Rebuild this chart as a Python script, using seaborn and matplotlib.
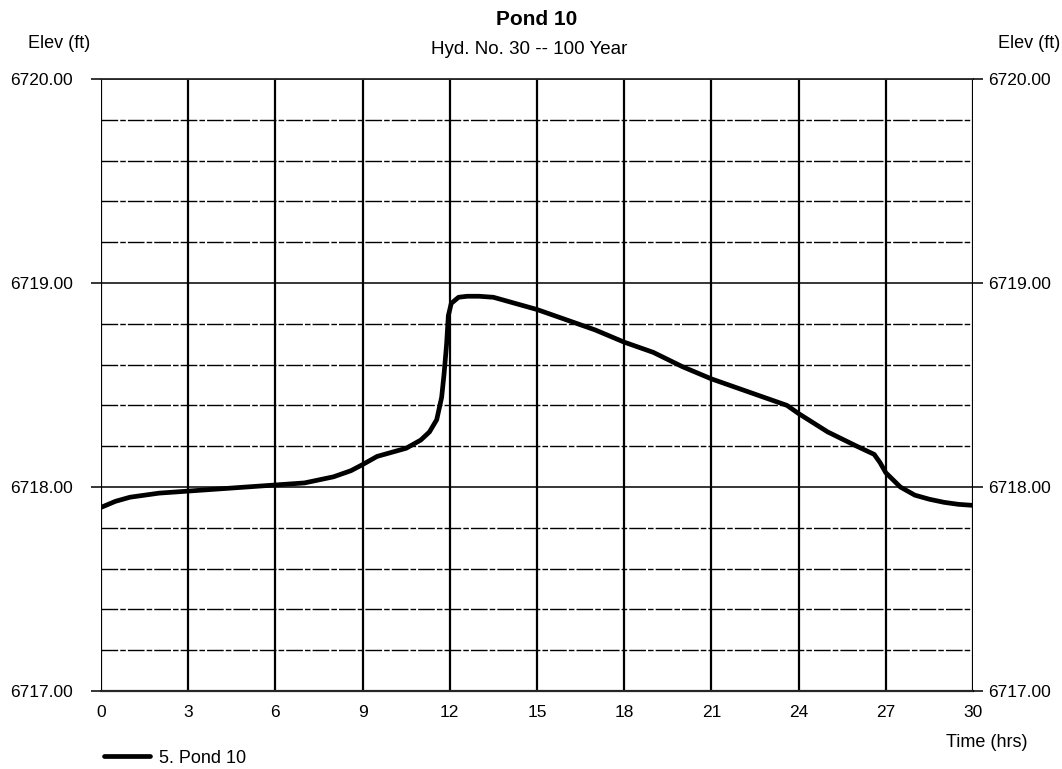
import numpy as np
import pandas as pd
import matplotlib
matplotlib.use("Agg")
import matplotlib.pyplot as plt
import seaborn as sns

# Data
time_hrs = [0, 0.5, 1, 2, 3, 4, 5, 6, 7, 8, 8.6, 9, 9.5, 10, 10.5, 11, 11.3, 11.55,
            11.72, 11.8, 11.89, 11.95, 12.05, 12.3, 12.6, 13, 13.5, 14, 15, 16, 17,
            18, 19, 20, 21, 22, 23, 23.6, 24, 25, 26, 26.6, 26.8, 27, 27.5, 28,
            28.5, 29, 29.5, 30]
elev_ft = [6717.90, 6717.93, 6717.95, 6717.97, 6717.98, 6717.99, 6718.00, 6718.01,
           6718.02, 6718.05, 6718.08, 6718.11, 6718.15, 6718.17, 6718.19, 6718.23,
           6718.27, 6718.33, 6718.44, 6718.55, 6718.70, 6718.84, 6718.90, 6718.93,
           6718.935, 6718.935, 6718.93, 6718.91, 6718.87, 6718.82, 6718.77,
           6718.71, 6718.66, 6718.59, 6718.53, 6718.48, 6718.43, 6718.40, 6718.36,
           6718.27, 6718.20, 6718.16, 6718.12, 6718.07, 6718.00, 6717.96,
           6717.94, 6717.925, 6717.915, 6717.91]
x_ticks = [0, 3, 6, 9, 12, 15, 18, 21, 24, 27, 30]
y_major = [6717, 6718, 6719, 6720]
y_minor = [6717.2, 6717.4, 6717.6, 6717.8, 6718.2, 6718.4, 6718.6, 6718.8,
           6719.2, 6719.4, 6719.6, 6719.8]
series_name = "5. Pond 10"

sns.set_style("white")
plt.rcParams['font.family'] = ['Liberation Sans', 'DejaVu Sans']
plt.rcParams['text.color'] = 'black'
plt.rcParams['xtick.color'] = 'black'
plt.rcParams['ytick.color'] = 'black'
plt.rcParams['axes.labelcolor'] = 'black'

df = pd.DataFrame({"Time": time_hrs, "Elev": elev_ft})

fig = plt.figure(figsize=(10.62, 7.69), dpi=100)
ax = fig.add_axes([0.0951, 0.1014, 0.8211, 0.7959])

ax.set_xlim(0, 30)
ax.set_ylim(6717, 6720)

# grid
for v in x_ticks:
    ax.axvline(v, color="black", lw=1.6, zorder=1)
for h in y_major:
    ax.axhline(h, color="black", lw=1.1, zorder=1)
for h in y_minor:
    ax.axhline(h, color="black", lw=1.0, ls=(0, (12, 1.5, 4, 1.5)), zorder=1)

sns.lineplot(data=df, x="Time", y="Elev", ax=ax, color="black", lw=3.4,
             label=series_name, zorder=3, legend=False)

for s in ax.spines.values():
    s.set_visible(False)
ax.spines['top'].set_visible(True)
ax.spines['bottom'].set_visible(True)
ax.spines['top'].set_linewidth(1.3)
ax.spines['bottom'].set_linewidth(1.6)

ax.set_xticks(x_ticks)
ax.set_xticklabels([str(v) for v in x_ticks])
ax.set_yticks(y_major)
ax.set_yticklabels([f"{v:.2f}" for v in y_major])
ax.tick_params(axis="x", length=0, pad=10, labelsize=12.5, labelcolor="black")
ax.tick_params(axis="y", length=7, width=1.1, direction="out", left=True, right=False,
               labelleft=True, labelright=False, labelsize=12.5, pad=13,
               color="black", labelcolor="black")
ax.set_xlabel("")
ax.set_ylabel("")

# right-hand axis labels
ax2 = ax.twinx()
ax2.set_ylim(ax.get_ylim())
ax2.set_yticks(y_major)
ax2.set_yticklabels([f"{v:.2f}" for v in y_major])
ax2.tick_params(axis="y", length=7, width=1.1, direction="out", right=True,
                labelright=True, labelsize=12.5, pad=4, color="black", labelcolor="black")
for s in ax2.spines.values():
    s.set_visible(False)
ax2.grid(False)

fig.text(0.505, 0.974, "Pond 10", ha="center", va="center", fontsize=15,
         fontweight="bold", color="black")
fig.text(0.498, 0.935, "Hyd. No. 30 -- 100 Year", ha="center", va="center",
         fontsize=13.5, color="black")
fig.text(0.0555, 0.944, "Elev (ft)", ha="center", va="center", fontsize=13, color="black")
fig.text(0.969, 0.944, "Elev (ft)", ha="center", va="center", fontsize=13, color="black")
fig.text(0.929, 0.034, "Time (hrs)", ha="center", va="center", fontsize=13, color="black")

# legend
leg = fig.legend(handles=ax.get_lines()[-1:], labels=[series_name], loc="center left",
                 bbox_to_anchor=(0.083, 0.014), frameon=False, fontsize=13,
                 handlelength=2.5, handletextpad=0.5)
for t in leg.get_texts():
    t.set_color("black")

fig.savefig("out.png", dpi=100, facecolor="white")
